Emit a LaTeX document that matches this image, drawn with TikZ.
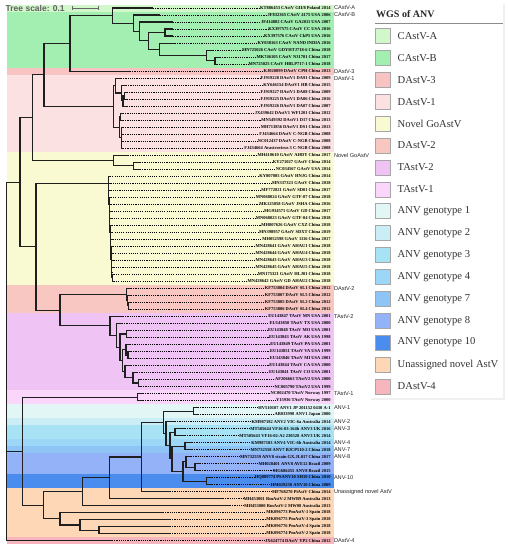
\documentclass[tikz,border=0pt]{standalone}
\usepackage{fontspec}
\setmainfont{Liberation Serif}
\setsansfont{Liberation Sans}
\usetikzlibrary{calc}
\definecolor{cA}{HTML}{D2F7CB}
\definecolor{cB}{HTML}{A3EFB2}
\definecolor{dd3}{HTML}{F8C3C3}
\definecolor{dd1}{HTML}{FCE1E3}
\definecolor{gn}{HTML}{FAFAD2}
\definecolor{dd2}{HTML}{F9C7C1}
\definecolor{tt2}{HTML}{EFC3F3}
\definecolor{tt1}{HTML}{F9D6FA}
\definecolor{an1}{HTML}{E2F6F6}
\definecolor{an2}{HTML}{CBEDF5}
\definecolor{an3}{HTML}{A7E2F5}
\definecolor{an4}{HTML}{9CD7F7}
\definecolor{an7}{HTML}{8EC4F6}
\definecolor{an8}{HTML}{93B2F7}
\definecolor{an10}{HTML}{4A8DEF}
\definecolor{unas}{HTML}{FDD7B6}
\definecolor{dd4}{HTML}{F7B6BD}
\newcommand\lf[3]{%
  \pgfmathsetmacro\ly{8+(#1-1)*7.01}%
  \coordinate (L#1) at (#2,\ly);
  \node[lab] (T#1) at (331,\ly) {#3};
  \draw[lead] (L#1) -- (T#1.west);
}
\newcommand\tn[4]{\path let \p1=($(#3)!.5!(#4)$) in coordinate (#1) at (#2pt,\y1);}
\newcommand\ed[2]{\foreach \cc in {#2}{\draw[br] (#1) |- (\cc);}}
\newcommand\band[3]{%
  \pgfmathsetmacro\ya{8+(#2-1)*7.01-3.505}%
  \pgfmathsetmacro\yb{8+(#3-1)*7.01+3.505}%
  \fill[#1] (7,\ya) rectangle (333.5,\yb);
}
\newcommand\clab[2]{%
  \pgfmathsetmacro\ly{8+(#1-1)*7.01}%
  \node[cl] (CL#1) at (333.5,\ly) {#2};
}
\begin{document}
\begin{tikzpicture}[x=1pt,y=-1pt,
  lab/.style={anchor=east,inner sep=0.2pt,font=\fontsize{4.5}{5}\selectfont\bfseries},
  cl/.style={anchor=west,inner sep=0.3pt,font=\sffamily\fontsize{5.6}{6}\selectfont,text=black!85},
  lead/.style={line width=0.6pt,dash pattern=on 1.1pt off 1.1pt},
  br/.style={line width=1.1pt,draw=black!88,line join=miter},
  lgtext/.style={anchor=west,inner sep=0pt,font=\fontsize{10.6}{12}\selectfont,text=black!80}]
\useasboundingbox (0,0) rectangle (508,550);
\fill[white] (0,0) rectangle (508,550);
% clade bands
\band{cA}{1}{1}
\band{cB}{2}{9}
\band{dd3}{10}{10}
\band{dd1}{11}{21}
\band{gn}{22}{40}
\band{dd2}{41}{44}
\band{tt2}{45}{55}
\band{tt1}{56}{57}
\band{an1}{58}{59}
\band{an2}{60}{60}
\band{an3}{61}{62}
\band{an4}{63}{63}
\band{an7}{64}{64}
\band{an8}{65}{67}
\band{an10}{68}{69}
\band{unas}{70}{76}
\band{dd4}{77}{77}
% tree scale
\node[anchor=west,inner sep=0pt,font=\sffamily\bfseries\fontsize{8.5}{9}\selectfont,text=black!62] (ts) at (5.5,8) {Tree scale: 0.1};
\coordinate (sb1) at (72,8);
\coordinate (sb2) at (98.5,8);
\draw[black!60,line width=0.8pt] (sb1) -- (sb2);
\draw[black!60,line width=0.8pt] ($(sb1)+(0,-2.3)$) -- ($(sb1)+(0,2.3)$);
\draw[black!60,line width=0.8pt] ($(sb2)+(0,-2.3)$) -- ($(sb2)+(0,2.3)$);
% leaves
\lf{1}{153}{KT886453 CAstV GII/8 Poland 2014}
\lf{2}{160}{JF832365 CAstV 4175 USA 2006}
\lf{3}{173}{JF414802 CAstV GA2011 USA 2007}
\lf{4}{173}{KX397575 CAstV CC USA 2016}
\lf{5}{173}{KX397576 CAstV CkP5 USA 2016}
\lf{6}{175}{KY038163 CAstV NAND INDIA 2016}
\lf{7}{213}{MN725026 CAstV GDYHTJ718-6 China 2018}
\lf{8}{220}{MK746105 CAstV N31701 China 2017}
\lf{9}{217}{MN725025 CAstV HBLP717-1 China 2018}
\lf{10}{130}{KJ020899 DAstV CPH China 2013}
\lf{11}{121}{FJ919228 DAstV1 DA91 China 2009}
\lf{12}{126}{KY646154 DAstV1 HB China 2015}
\lf{13}{127}{FJ919227 DAstV1 DA08 China 2009}
\lf{14}{127}{FJ919225 DAstV1 DA06 China 2016}
\lf{15}{127}{FJ919226 DAstV1 DA07 China 2007}
\lf{16}{123}{JX439642 DAstV1 WF1201 China 2012}
\lf{17}{123}{MN549392 DAstV1 D17 China 2013}
\lf{18}{123}{MH713856 DAstV1 DS1 China 2013}
\lf{19}{123}{FJ434664 DAstV C-NGB China 2008}
\lf{20}{123}{NC012437 DAstV C-NGB China 2008}
\lf{21}{123}{FJ434664 Avastrovirus 3 C-NGB China 2008}
\lf{22}{128}{MH410610 GAstV AHDY China 2017}
\lf{23}{140}{KY271027 GAstV China 2014}
\lf{24}{140}{NC034567 GAstV USA 2014}
\lf{25}{110.1}{KY807085 GAstV HNJG China 2014}
\lf{26}{110.4}{MN337323 GAstV China 2018}
\lf{27}{110.6}{MF772821 GAstV SD01 China 2017}
\lf{28}{110.9}{MN068024 GAstV GTF-07 China 2018}
\lf{29}{111.2}{MK125058 GAstV JSHA China 2016}
\lf{30}{111.5}{MG934571 GAstV GD China 2017}
\lf{31}{111.7}{MN068023 GAstV GTF-04 China 2018}
\lf{32}{112.0}{MH807626 GAstV CXZ China 2018}
\lf{33}{112.3}{MN398957 GAstV SDXT China 2019}
\lf{34}{112.6}{MH052598 GAstV 1116 China 2017}
\lf{35}{112.8}{MN428641 GAstV AHAU1 China 2018}
\lf{36}{113.1}{MN428644 GAstV AHAU4 China 2018}
\lf{37}{113.4}{MN428643 GAstV AHAU3 China 2018}
\lf{38}{113.6}{MN428645 GAstV AHAU5 China 2018}
\lf{39}{113.9}{MN175321 GAstV HLJ01 China 2018}
\lf{40}{113.9}{MN428642 GAstV GD AHAU2 China 2018}
\lf{41}{131}{KF753804 DAstV SL1 China 2012}
\lf{42}{131}{KF753807 DAstV SL5 China 2012}
\lf{43}{131}{KF753805 DAstV SL2 China 2012}
\lf{44}{131}{KF753806 DAstV SL4 China 2012}
\lf{45}{123}{EU143847 TAstV MN USA 2001}
\lf{46}{122}{EU143850 TAstV TX USA 2000}
\lf{47}{131}{EU143848 TAstV MO USA 2001}
\lf{48}{131}{EU143843 TAstV AK USA 1998}
\lf{49}{130}{EU143849 TAstV PA USA 2001}
\lf{50}{131}{EU143851 TAstV VA USA 1999}
\lf{51}{131}{EU143846 TAstV MI USA 2001}
\lf{52}{131}{EU143844 TAstV CA USA 2000}
\lf{53}{137}{EU143841 TAstV CO USA 2001}
\lf{54}{141}{AF206663 TAstV2 USA 2000}
\lf{55}{141}{NC005790 TAstV2 USA 1999}
\lf{56}{143}{NC002470 TAstV Norway 1997}
\lf{57}{143}{Y15936 TAstV Norway 2000}
\lf{58}{198}{HV510107 ANV1 JP 201152 0430 A-1}
\lf{59}{198}{AB033998 ANV1 Japan 2000}
\lf{60}{175}{KM987182 ANV2 VIC-6a Australia 2014}
\lf{61}{185}{MT505644 VF16-03-164b ANV3 UK 2016}
\lf{62}{185}{MT505643 VF16-02-A2 230528 ANV3 UK 2014}
\lf{63}{192}{KM987183 ANV4 VIC-6b Australia 2014}
\lf{64}{192}{MN732558 ANV7 BJCP510-2 China 2018}
\lf{65}{191}{MN732559 ANV8 strain GX.JL017 China 2017}
\lf{66}{200}{MH028401 ANV8 AVE12 Brazil 2009}
\lf{67}{200}{MG686455 ANV8 Brazil 2015}
\lf{68}{212}{HQ889774 PSANV10 SH10 China 2010}
\lf{69}{212}{HM029238 ANV10 China 2009}
\lf{70}{170}{MF768270 PiAstV China 2014}
\lf{71}{223}{MH453001 RmAstV-2 MWB9 Australia 2013}
\lf{72}{230}{MH453000 RmAstV-2 MW08 Australia 2013}
\lf{73}{163}{MK096773 PmAstV-1 Spain 2018}
\lf{74}{170}{MK096775 PmAstV-3 Spain 2018}
\lf{75}{170}{MK096776 PmAstV-4 Spain 2018}
\lf{76}{170}{MK096774 PmAstV-2 Spain 2018}
\lf{77}{112}{JX624774 DAstV YP2 China 2012}
% CAstV
\tn{C8}{215}{L8}{L9}\ed{C8}{L8,L9}
\tn{C7}{206.7}{L7}{C8}\ed{C7}{L7,C8}
\tn{C6}{159.3}{L6}{C7}\ed{C6}{L6,C7}
\tn{C5}{165}{L4}{L5}\ed{C5}{L4,L5}
\tn{C4}{148.3}{C5}{C6}\ed{C4}{C5,C6}
\tn{C3}{139.3}{L3}{C4}\ed{C3}{L3,C4}
\tn{C2}{133.3}{L2}{C3}\ed{C2}{L2,C3}
\tn{C1}{112.7}{L1}{C2}\ed{C1}{L1,C2}
\tn{C0}{70}{C1}{L10}\ed{C0}{C1,L10}
% DAstV-1
\tn{Da3}{124.5}{L13}{L14}\ed{Da3}{L13,L14}
\tn{Da2}{123}{Da3}{L15}\ed{Da2}{Da3,L15}
\tn{Da1}{121.3}{L12}{Da2}\ed{Da1}{L12,Da2}
\tn{Da}{115.5}{L11}{Da1}\ed{Da}{L11,Da1}
\tn{Db1}{120.5}{L16}{L17}\ed{Db1}{L16,L17}
\tn{Db2}{121.3}{L18}{L21}\ed{Db2}{L18,L19,L20,L21}
\tn{Db}{119.3}{Db1}{Db2}\ed{Db}{Db1,Db2}
\tn{D1}{113.3}{Da}{Db}\ed{D1}{Da,Db}
\tn{A1}{44}{C0}{D1}\ed{A1}{C0,D1}
% Novel GoAstV
\tn{G1}{133.3}{L23}{L24}\ed{G1}{L23,L24}
\tn{G0}{113.3}{L22}{G1}\ed{G0}{L22,G1}
\tn{A2}{32.7}{A1}{G0}\ed{A2}{A1,G0}
% GoAstV (ladder)
\tn{g39}{112.08}{L39}{L40}\ed{g39}{L39,L40}
\foreach \i [evaluate=\i as \j using int(\i+1), evaluate=\i as \xx using 108.3+(\i-25)*0.27] in {38,37,...,25}{%
  \tn{g\i}{\xx}{L\i}{g\j}\ed{g\i}{L\i,g\j}}
% DAstV-2
\tn{D2b}{128.5}{L43}{L44}\ed{D2b}{L43,L44}
\tn{D2a}{127.5}{L42}{D2b}\ed{D2a}{L42,D2b}
\tn{D2}{126.7}{L41}{D2a}\ed{D2}{L41,D2a}
% TAstV-2
\tn{T8}{138.3}{L54}{L55}\ed{T8}{L54,L55}
\tn{T7}{133}{L53}{T8}\ed{T7}{L53,T8}
\tn{T6}{125}{L52}{T7}\ed{T6}{L52,T7}
\tn{T5a}{128}{L50}{L51}\ed{T5a}{L50,L51}
\tn{T5}{126}{L49}{T5a}\ed{T5}{L49,T5a}
\tn{T4}{122.5}{T5}{T6}\ed{T4}{T5,T6}
\tn{T3}{126.7}{L47}{L48}\ed{T3}{L47,L48}
\tn{T2}{120}{T3}{T4}\ed{T2}{T3,T4}
\tn{T1}{116.7}{L46}{T2}\ed{T1}{L46,T2}
\tn{T0}{110}{L45}{T1}\ed{T0}{L45,T1}
\tn{DT}{60}{D2}{T0}\ed{DT}{D2,T0}
\tn{B}{36}{g25}{DT}\ed{B}{g25,DT}
\tn{U}{20}{A2}{B}\ed{U}{A2,B}
% TAstV-1, ANV, unassigned
\tn{Ta}{137.3}{L56}{L57}\ed{Ta}{L56,L57}
\tn{A1p}{193.3}{L58}{L59}\ed{A1p}{L58,L59}
\tn{Q3}{175}{L61}{L62}\ed{Q3}{L61,L62}
\tn{Q5}{185}{L63}{L64}\ed{Q5}{L63,L64}
\tn{Q7}{195}{L66}{L67}\ed{Q7}{L66,L67}
\tn{Q6a}{186}{L65}{Q7}\ed{Q6a}{L65,Q7}
\tn{A10}{206.7}{L68}{L69}\ed{A10}{L68,L69}
\tn{Q6}{183}{Q6a}{A10}\ed{Q6}{Q6a,A10}
\tn{Q4}{172}{Q5}{Q6}\ed{Q4}{Q5,Q6}
\tn{Q2}{170}{Q3}{Q4}\ed{Q2}{Q3,Q4}
\tn{Q1}{166}{L60}{Q2}\ed{Q1}{L60,Q2}
\tn{Q0}{163.3}{A1p}{Q1}\ed{Q0}{A1p,Q1}
\tn{N4}{141.7}{Q0}{L70}\ed{N4}{Q0,L70}
\tn{N3}{109.3}{N4}{L71}\ed{N3}{N4,L71}
\tn{N2}{82.7}{N3}{L72}\ed{N2}{N3,L72}
\tn{P2}{99}{L75}{L76}\ed{P2}{L75,L76}
\tn{P1}{80}{L74}{P2}\ed{P1}{L74,P2}
\tn{P0}{60}{L73}{P1}\ed{P0}{L73,P1}
\tn{N1}{43.3}{N2}{P0}\ed{N1}{N2,P0}
\tn{M}{22.3}{Ta}{N1}\ed{M}{Ta,N1}
\tn{R}{6.7}{U}{L77}\ed{R}{U,M,L77}
% clade labels
\clab{1}{CAstV-A}
\clab{2}{CAstV-B}
\clab{10}{DAstV-3}
\clab{11}{DAstV-1}
\clab{22}{Novel GoAstV}
\clab{41}{DAstV-2}
\clab{45}{TAstV-2}
\clab{56}{TAstV-1}
\clab{58}{ANV-1}
\clab{60}{ANV-2}
\clab{61}{ANV-3}
\clab{63}{ANV-4}
\clab{64}{ANV-7}
\clab{65}{ANV-8}
\clab{68}{ANV-10}
\clab{70}{Unassigned novel AstV}
\clab{77}{DAstV-4}
% legend
\fill[black!6] (371,4) rectangle (504.5,399.5);
\fill[white] (370,3) rectangle (503,398);
\node[anchor=west,inner sep=0pt,font=\bfseries\fontsize{10}{12}\selectfont,text=black!85] (lgt) at (376,14) {WGS of ANV};
\draw[black!45,line width=0.8pt] (375,23.5) -- (503,23.5);
\foreach \col/\txt [count=\k] in {cA/CAstV-A,cB/CAstV-B,dd3/DAstV-3,dd1/DAstV-1,gn/Novel GoAstV,dd2/DAstV-2,tt2/TAstV-2,tt1/TAstV-1,an1/ANV genotype 1,an2/ANV genotype 2,an3/ANV genotype 3,an4/ANV genotype 4,an7/ANV genotype 7,an8/ANV genotype 8,an10/ANV genotype 10,unas/Unassigned novel AstV,dd4/DAstV-4}{
  \pgfmathsetmacro\ly{36+(\k-1)*21.9}
  \draw[fill=\col,draw=black!35,line width=0.6pt] (375.5,\ly-7.5) rectangle (390.5,\ly+7.5);
  \node[lgtext] (lg\k) at (397.5,\ly) {\txt};
}
\end{tikzpicture}
\end{document}
